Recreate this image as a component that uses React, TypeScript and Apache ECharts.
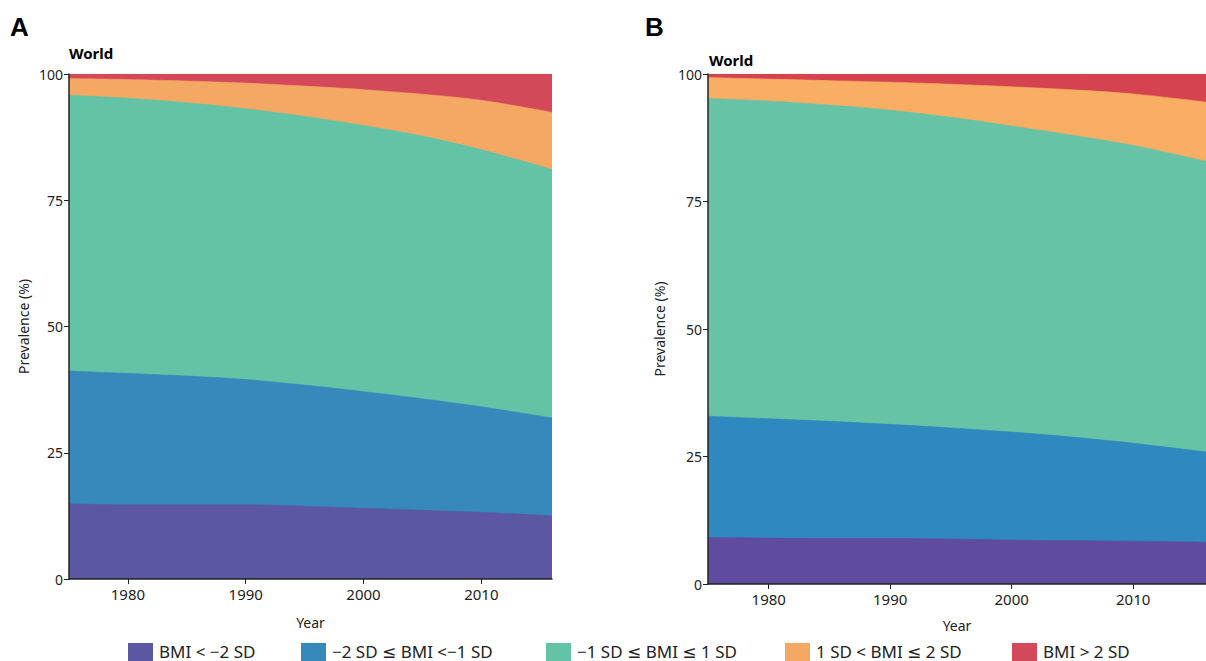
import React, { useEffect, useRef } from "react";
import * as echarts from "echarts";

const years = [1975, 1980, 1985, 1990, 1995, 2000, 2005, 2010, 2016];
const xTicks = [1980, 1990, 2000, 2010];
const yTicks = [0, 25, 50, 75, 100];

const seriesNames = [
  "BMI < \u22122 SD",
  "\u22122 SD \u2264 BMI <\u22121 SD",
  "\u22121 SD \u2264 BMI \u2264 1 SD",
  "1 SD < BMI \u2264 2 SD",
  "BMI > 2 SD",
];

// Panel A (band values, %)
const aSevereThin = [14.9, 14.7, 14.7, 14.7, 14.4, 14.0, 13.6, 13.2, 12.5];
const aThin = [26.3, 26.0, 25.5, 24.8, 24.0, 23.1, 22.1, 20.9, 19.4];
const aNormal = [54.6, 54.5, 54.1, 53.6, 53.2, 52.7, 52.0, 50.9, 49.2];
const aOverweight = [3.3, 3.7, 4.3, 5.1, 6.0, 7.1, 8.3, 9.8, 11.3];
const aObese = [0.9, 1.1, 1.4, 1.8, 2.4, 3.1, 4.0, 5.2, 7.6];

// Panel B (band values, %)
const bSevereThin = [9.1, 9.0, 8.9, 8.9, 8.8, 8.6, 8.5, 8.4, 8.2];
const bThin = [23.8, 23.4, 23.0, 22.4, 21.8, 21.2, 20.3, 19.2, 17.7];
const bNormal = [62.3, 62.3, 62.0, 61.6, 60.9, 60.0, 59.2, 58.4, 57.0];
const bOverweight = [4.1, 4.3, 4.8, 5.5, 6.5, 7.7, 8.9, 10.1, 11.6];
const bObese = [0.7, 1.0, 1.3, 1.6, 2.0, 2.5, 3.1, 3.9, 5.5];

const colorsA = ["#5B57A3", "#3689BA", "#62C3A6", "#F5A864", "#D4495A"];
const colorsB = ["#5F4CA0", "#2F89BE", "#67C3A5", "#F9AE64", "#D4434F"];

const FONT = "'Noto Sans', 'DejaVu Sans', sans-serif";

export default function App() {
  const ref = useRef<HTMLDivElement>(null);
  useEffect(() => {
    if (!ref.current) return;
    document.body.style.margin = "0";
    const chart = echarts.init(ref.current, null, { renderer: "svg" });
    const panelA = [aSevereThin, aThin, aNormal, aOverweight, aObese];
    const panelB = [bSevereThin, bThin, bNormal, bOverweight, bObese];

    // cumulative tops of each band (stacking), drawn top band first
    const mkSeries = (panel: number[][], colors: string[], idx: number) => {
      const cum: number[][] = [];
      panel.forEach((vals, i) => {
        cum.push(vals.map((v, j) => (i === 0 ? 0 : cum[i - 1][j]) + v));
      });
      const out: any[] = [];
      for (let i = panel.length - 1; i >= 0; i--) {
        out.push({
          name: seriesNames[i],
          id: "p" + idx + "s" + i,
          type: "line",
          xAxisIndex: idx,
          yAxisIndex: idx,
          smooth: 0.3,
          showSymbol: false,
          symbol: "none",
          lineStyle: { width: 0.6, color: colors[i] },
          areaStyle: { color: colors[i], opacity: 1, origin: "start" },
          itemStyle: { color: colors[i] },
          z: 2 + (panel.length - i) * 0.01,
          data: years.map((y, j) => [y, Math.min(100, +cum[i][j].toFixed(2))]),
        });
      }
      return out;
    };

    const xAxisBase = (gridIndex: number, gap: number) => ({
      type: "value",
      gridIndex,
      min: 1975,
      max: 2016,
      name: "Year",
      nameLocation: "middle",
      nameGap: gap,
      nameTextStyle: { fontFamily: FONT, fontSize: 14, color: "#222" },
      axisLine: { show: true, lineStyle: { color: "#222", width: 1.5 } },
      axisTick: { show: true, customValues: xTicks, length: 5, lineStyle: { color: "#222" } },
      axisLabel: {
        customValues: xTicks,
        formatter: (v: number) => String(v),
        fontFamily: FONT,
        fontSize: 15,
        color: "#222",
        margin: 7,
      },
      splitLine: { show: false },
      z: 5,
    });
    const yAxisBase = (gridIndex: number, gap: number) => ({
      type: "value",
      gridIndex,
      min: 0,
      max: 100,
      interval: 25,
      name: "Prevalence (%)",
      nameLocation: "middle",
      nameGap: gap,
      nameTextStyle: { fontFamily: FONT, fontSize: 14, color: "#222" },
      axisLine: { show: true, lineStyle: { color: "#222", width: 1.5 } },
      axisTick: { show: true, length: 5, lineStyle: { color: "#222" } },
      axisLabel: {
        fontFamily: FONT,
        fontSize: 14,
        color: "#222",
        margin: 6,
        customValues: yTicks,
      },
      splitLine: { show: false },
      z: 5,
    });

    const legendLefts = [128, 301, 546, 785, 1012];
    const legendGraphics: any[] = [];
    seriesNames.forEach((n, i) => {
      legendGraphics.push({
        type: "rect",
        shape: { x: legendLefts[i], y: 643, width: 25, height: 19 },
        style: { fill: colorsA[i] },
      });
      legendGraphics.push({
        type: "text",
        x: legendLefts[i] + 31,
        y: 651,
        style: {
          text: n,
          fontFamily: FONT,
          fontSize: 17,
          fill: "#222",
          verticalAlign: "middle",
        },
      });
    });

    chart.setOption({
      animation: false,
      backgroundColor: "#ffffff",
      grid: [
        { left: 69, right: 654, top: 74, bottom: 82, containLabel: false },
        { left: 708, right: 0, top: 74, bottom: 77, containLabel: false },
      ],
      xAxis: [xAxisBase(0, 36), xAxisBase(1, 34)],
      yAxis: [yAxisBase(0, 39), yAxisBase(1, 42)],
      series: [...mkSeries(panelA, colorsA, 0), ...mkSeries(panelB, colorsB, 1)],
      graphic: [
        { type: "text", left: 10, top: 14, style: { text: "A", fontFamily: "'Liberation Sans', Arial, sans-serif", fontWeight: "bold", fontSize: 26, fill: "#000" } },
        { type: "text", left: 645, top: 14, style: { text: "B", fontFamily: "'Liberation Sans', Arial, sans-serif", fontWeight: "bold", fontSize: 26, fill: "#000" } },
        { type: "text", left: 69, top: 45, style: { text: "World", fontFamily: FONT, fontWeight: "bold", fontSize: 15, fill: "#000" } },
        { type: "text", left: 709, top: 52, style: { text: "World", fontFamily: FONT, fontWeight: "bold", fontSize: 15, fill: "#000" } },
        ...legendGraphics,
      ],
    });
    return () => chart.dispose();
  }, []);
  return <div ref={ref} style={{ width: 1206, height: 661, position: "absolute", left: 0, top: 0 }} />;
}
